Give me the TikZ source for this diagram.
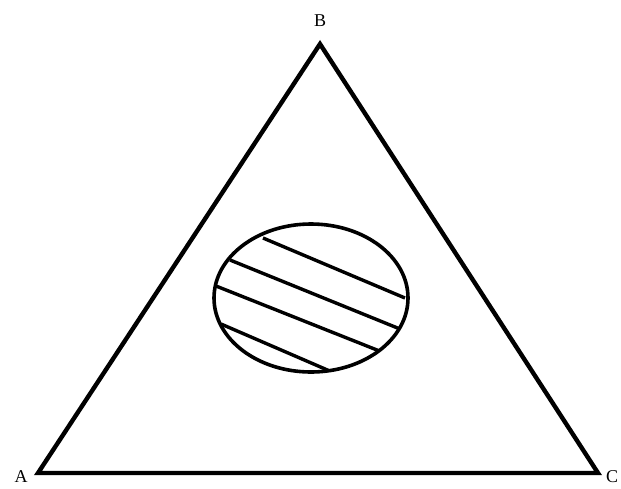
\documentclass[tikz,border=0pt]{standalone}
\usepackage{fontspec}
\setmainfont{Liberation Serif}
\begin{document}
\begin{tikzpicture}[x=1pt,y=-1pt,
  edge/.style={line width=4.4pt,line join=miter},
  oval/.style={line width=3.6pt},
  hatch/.style={line width=3.4pt},
  lbl/.style={font=\fontsize{18}{21}\selectfont,inner sep=0pt}]
\useasboundingbox (0,0) rectangle (621,488);
\coordinate (A) at (38,473);
\coordinate (B) at (320,44);
\coordinate (C) at (598,473);
\draw[edge] (A) -- (B) -- (C) -- cycle;
\node[lbl] (la) at (21,477) {A};
\node[lbl] (lb) at (320,21) {B};
\node[lbl] (lc) at (612,477) {C};
\draw[oval] (311,298) ellipse [x radius=97, y radius=74];
\begin{scope}
\clip (311,298) ellipse [x radius=97, y radius=74];
\draw[hatch] (263,238) -- (405,298);
\draw[hatch] (230,260) -- (400,329);
\draw[hatch] (216,286) -- (382,352);
\draw[hatch] (221,324) -- (339,375);
\end{scope}
\end{tikzpicture}
\end{document}
